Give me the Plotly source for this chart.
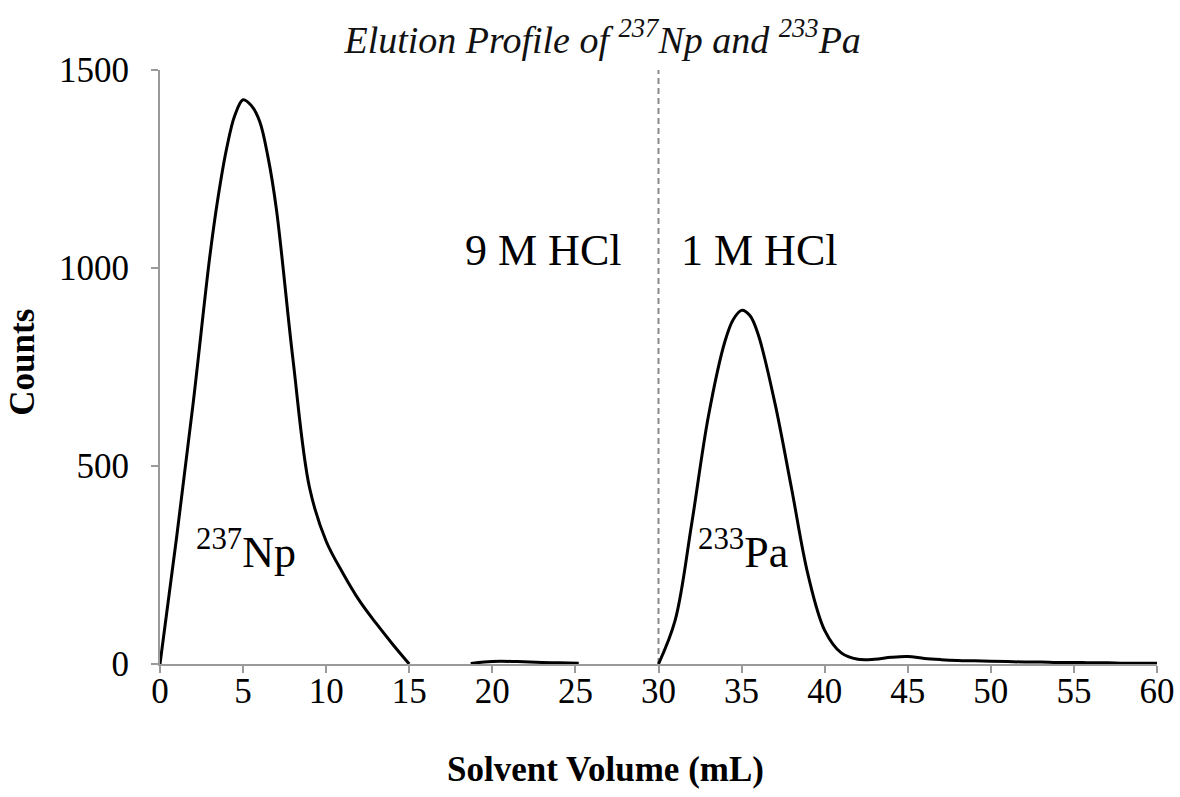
import plotly.graph_objects as go

# Data
np_volume = [0, 1, 2, 3, 3.5, 4, 4.5, 5, 5.5, 6, 6.5, 7, 8, 9, 10, 11, 12, 13, 14, 15]
np_counts = [0, 320, 660, 1030, 1180, 1300, 1385, 1425, 1410, 1370, 1280, 1150, 770, 445, 310, 230, 160, 103, 50, 0]

mid_volume = [18.7, 19.5, 20.5, 21.5, 23, 24, 25.2]
mid_counts = [1, 5, 7, 6, 4, 3, 2]

pa_volume = [30, 31, 32, 33, 34, 34.5, 35, 35.5, 36, 37, 38, 39, 40, 41, 42, 43, 44, 45, 46, 47, 48, 49, 50,
             51, 52, 53, 54, 55, 56, 57, 58, 59, 60]
pa_counts = [0, 110, 355, 625, 815, 870, 893, 880, 832, 660, 445, 225, 85, 28, 12, 12, 17, 19, 14, 11, 9, 8, 7,
             6, 5, 5, 4, 4, 3, 3, 2, 2, 2]

x_ticks = [0, 5, 10, 15, 20, 25, 30, 35, 40, 45, 50, 55, 60]
y_ticks = [0, 500, 1000, 1500]

FONT = "Liberation Serif, Times New Roman, serif"
LINE = dict(color="black", width=3, shape="spline", smoothing=1.0)

fig = go.Figure()
for xs, ys in [(np_volume, np_counts), (mid_volume, mid_counts), (pa_volume, pa_counts)]:
    fig.add_trace(go.Scatter(x=xs, y=ys, mode="lines", line=LINE, showlegend=False, hoverinfo="skip"))

fig.add_shape(type="line", x0=30, x1=30, y0=0, y1=1520, xref="x", yref="y",
              line=dict(color="#8a8a8a", width=2, dash="6px,4px"), layer="below")

ann_font = dict(family=FONT, size=44, color="black")
fig.add_annotation(x=23.05, y=1045, text="9 M HCl", showarrow=False, font=ann_font,
                   xanchor="center", yanchor="middle")
fig.add_annotation(x=36.05, y=1045, text="1 M HCl", showarrow=False, font=ann_font,
                   xanchor="center", yanchor="middle")
fig.add_annotation(x=5.2, y=290, text="<sup>237</sup>Np", showarrow=False, font=ann_font,
                   xanchor="center", yanchor="middle")
fig.add_annotation(x=35.1, y=290, text="<sup>233</sup>Pa", showarrow=False, font=ann_font,
                   xanchor="center", yanchor="middle")

# axis titles
fig.add_annotation(x=0.447, y=-0.178, xref="paper", yref="paper", text="<b>Solvent Volume (mL)</b>",
                   showarrow=False, font=dict(family=FONT, size=35, color="black"),
                   xanchor="center", yanchor="middle")
fig.add_annotation(x=-0.138, y=0.508, xref="paper", yref="paper", text="<b>Counts</b>",
                   showarrow=False, textangle=-90, font=dict(family=FONT, size=35, color="black"),
                   xanchor="center", yanchor="middle")

fig.update_layout(
    width=1180, height=797,
    margin=dict(l=160, r=23, t=70, b=133, autoexpand=False),
    paper_bgcolor="white", plot_bgcolor="white",
    font=dict(family=FONT, color="black"),
    title=dict(text="<i>Elution Profile of <sup>237</sup>Np and <sup>233</sup>Pa</i>",
               x=0.444, xref="paper", xanchor="center", y=1 - 40 / 797, yanchor="middle",
               font=dict(family=FONT, size=38, color="#111111")),
)
fig.update_xaxes(range=[0, 60], tickvals=x_ticks, showgrid=False, zeroline=False,
                 showline=True, linecolor="#9a9a9a", linewidth=2, automargin=False,
                 ticks="outside", ticklen=7, tickcolor="#9a9a9a", tickwidth=1.5,
                 ticklabelstandoff=-12,
                 tickfont=dict(family=FONT, size=35, color="black"))
fig.update_yaxes(range=[0, 1500], tickvals=y_ticks, showgrid=False, zeroline=False,
                 showline=True, linecolor="#9a9a9a", linewidth=2, automargin=False,
                 ticks="outside", ticklen=7, tickcolor="#9a9a9a", tickwidth=1.5,
                 ticklabelstandoff=15,
                 tickfont=dict(family=FONT, size=35, color="black"))

fig.write_html("out.html")
